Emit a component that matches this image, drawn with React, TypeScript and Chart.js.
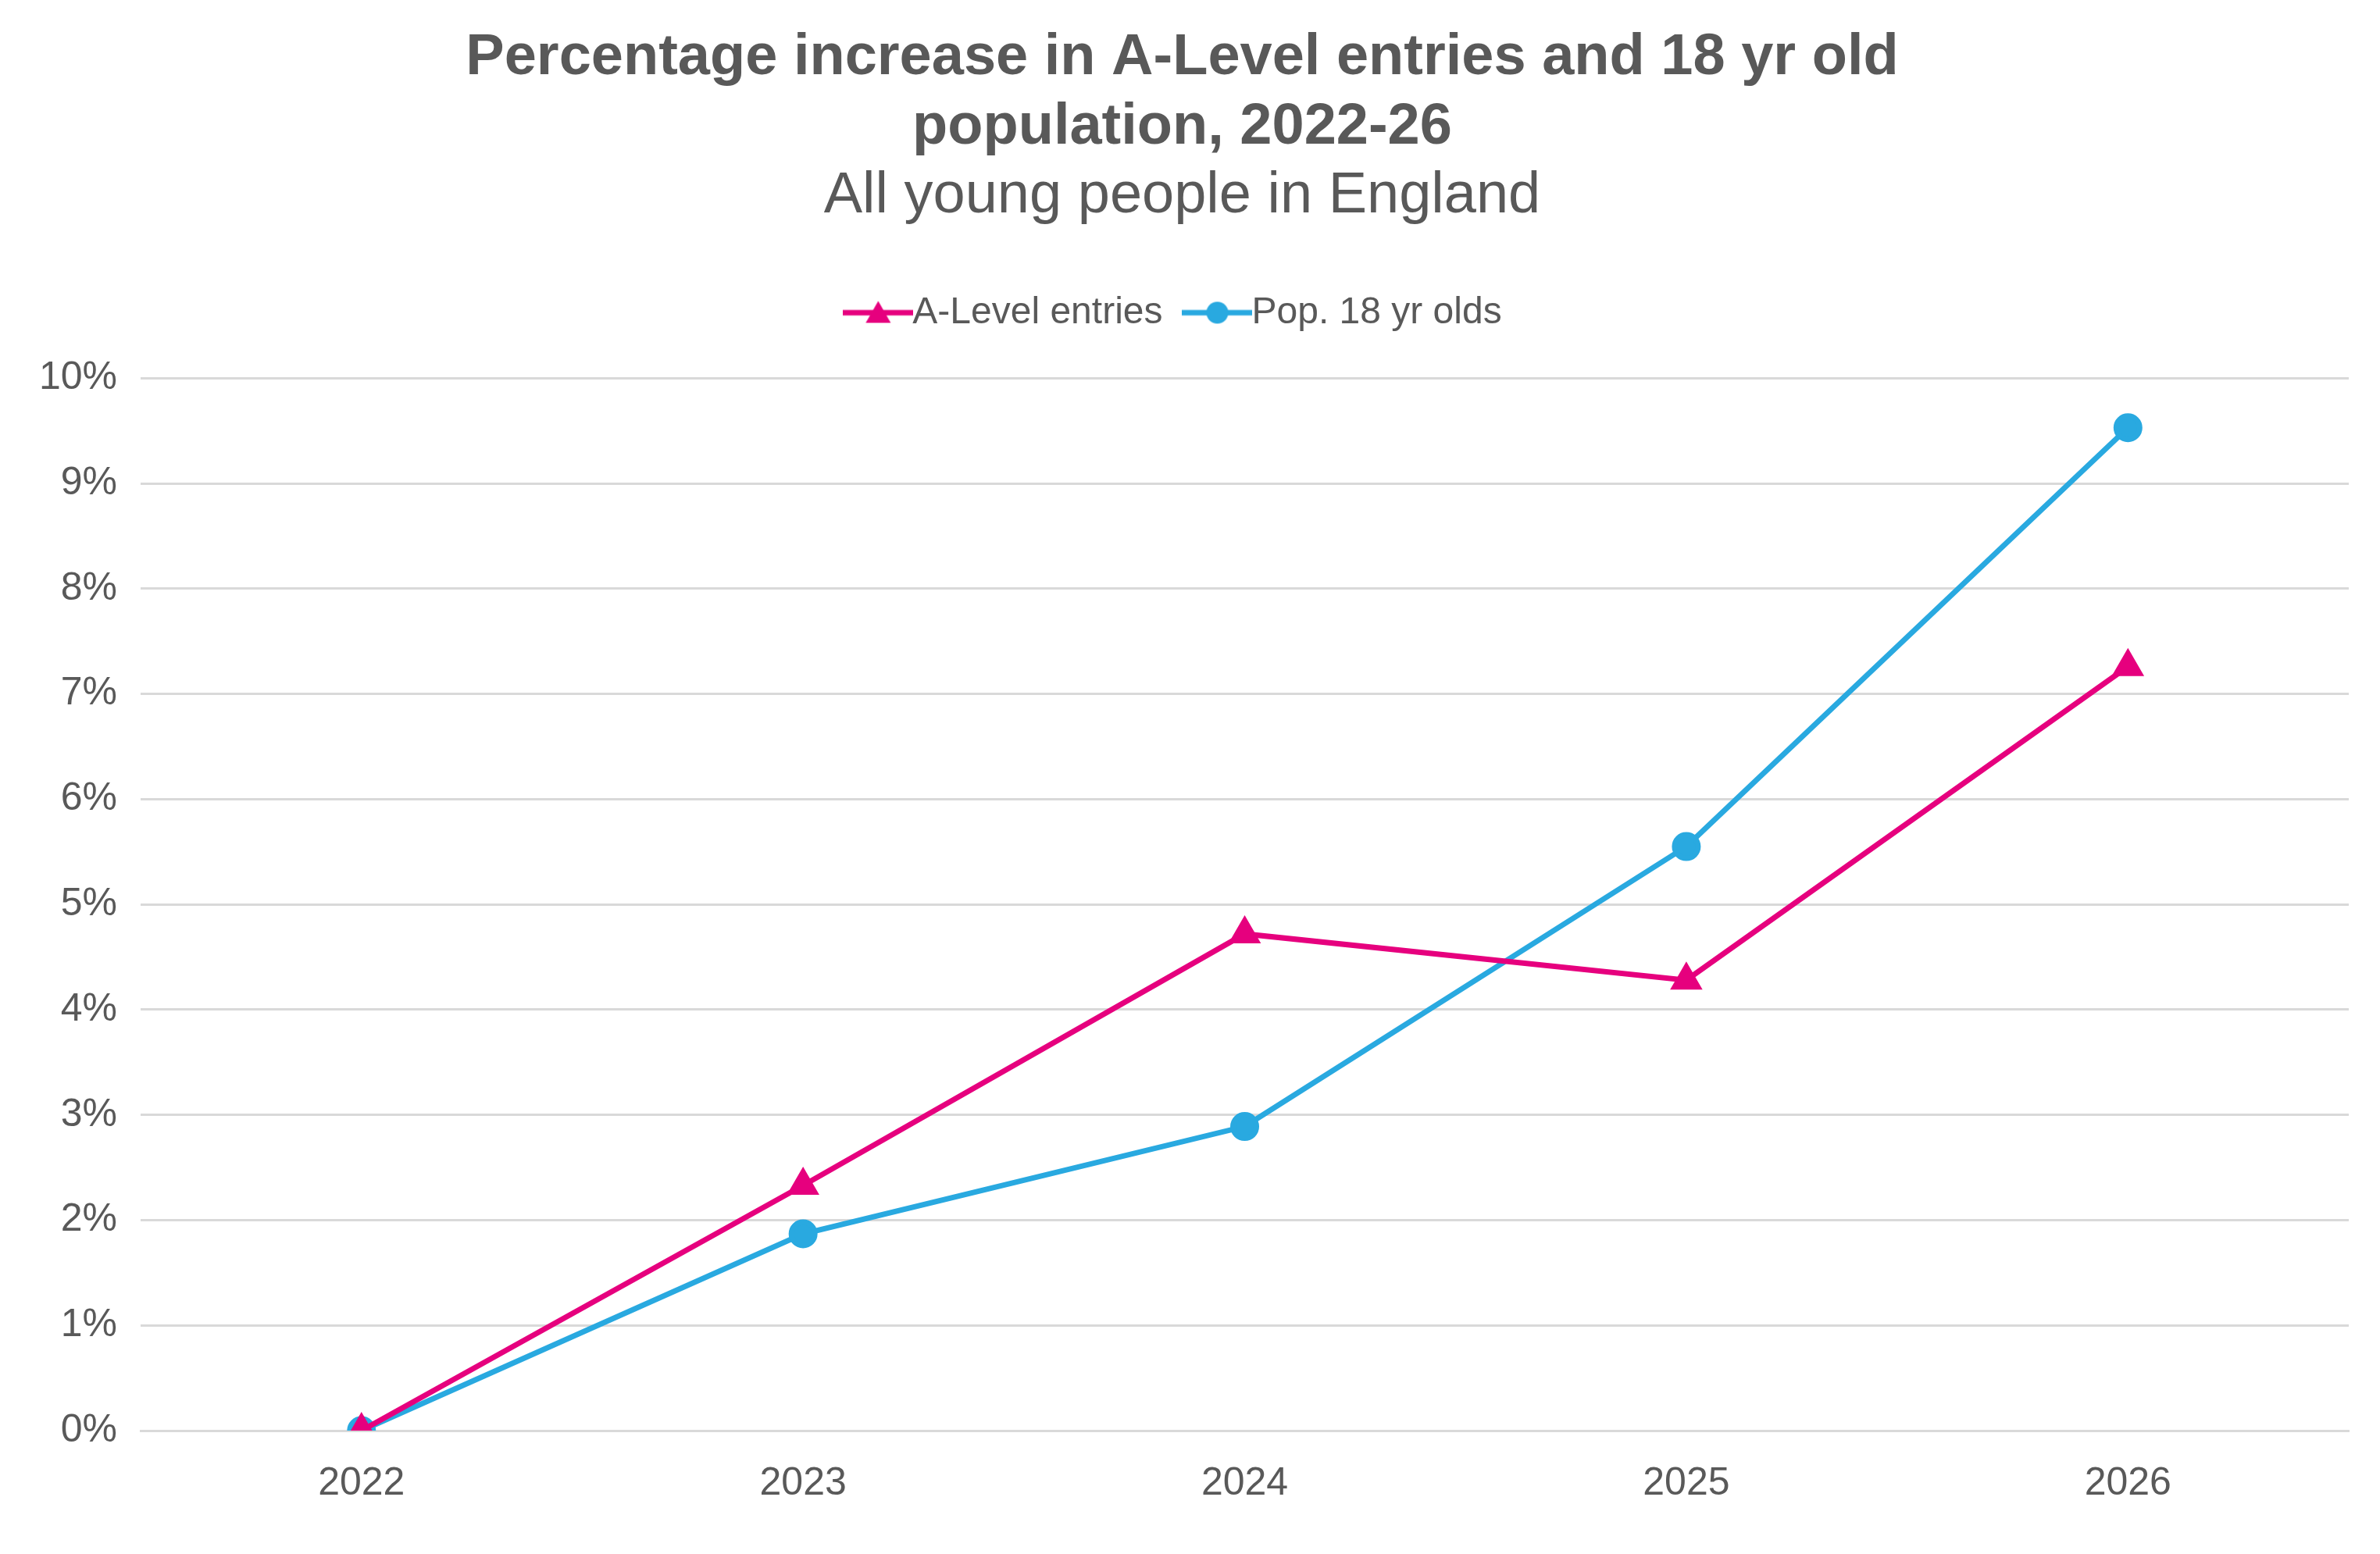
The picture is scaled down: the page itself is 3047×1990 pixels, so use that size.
import React, { useEffect, useRef } from "react";
import { Chart, registerables } from "chart.js";
Chart.register(...registerables);

const years = ["2022", "2023", "2024", "2025", "2026"];
const aLevel = [0, 2.33, 4.72, 4.28, 7.26];
const pop18 = [0, 1.87, 2.89, 5.55, 9.53];
const pink = "#E6007E";
const blue = "#29A9E0";
const txt = "#595959";
const font = "'Liberation Sans', Arial, sans-serif";

function legendIcon(color: string, tri: boolean) {
  const cv = document.createElement("canvas");
  cv.width = 90; cv.height = 34;
  const g = cv.getContext("2d")!;
  g.strokeStyle = color; g.fillStyle = color; g.lineWidth = 7;
  g.beginPath(); g.moveTo(0, 17); g.lineTo(90, 17); g.stroke();
  g.beginPath();
  if (tri) { g.moveTo(45, 2); g.lineTo(61, 30); g.lineTo(29, 30); g.closePath(); }
  else g.arc(45, 17, 14, 0, Math.PI * 2);
  g.fill();
  return cv;
}

export default function App() {
  const ref = useRef<HTMLCanvasElement>(null);
  useEffect(() => {
    const icons = [legendIcon(pink, true), legendIcon(blue, false)];
    const c = new Chart(ref.current!, {
      type: "line",
      data: {
        labels: years,
        datasets: [
          { label: "A-Level entries", data: aLevel, borderColor: pink, backgroundColor: pink, borderWidth: 7, pointStyle: "triangle", pointRadius: 17, pointHoverRadius: 17 },
          { label: "Pop. 18 yr olds", data: pop18, borderColor: blue, backgroundColor: blue, borderWidth: 7, pointStyle: "circle", pointRadius: 15, pointHoverRadius: 15 },
        ],
      },
      options: {
        animation: false,
        responsive: false,
        devicePixelRatio: 1,
        layout: { padding: { left: 20, right: 40, top: 30, bottom: 30 } },
        plugins: {
          title: {
            display: true,
            text: ["Percentage increase in A-Level entries and 18 yr old", "population, 2022-26"],
            color: txt,
            font: { family: font, size: 74, weight: "bold" },
            padding: { bottom: 0 },
            lineHeight: 1.2,
          },
          subtitle: {
            display: true,
            text: "All young people in England",
            color: txt,
            font: { family: font, size: 74 },
            padding: { bottom: 30 },
          },
          legend: {
            labels: {
              usePointStyle: true,
              color: txt,
              font: { family: font, size: 48 },
              padding: 50,
              generateLabels: (ch: any) => ch.data.datasets.map((d: any, i: number) => ({
                text: d.label, pointStyle: icons[i], fillStyle: d.borderColor, strokeStyle: d.borderColor, lineWidth: 0, datasetIndex: i, fontColor: txt, hidden: false,
              })),
            },
          },
          tooltip: { enabled: false },
        },
        scales: {
          x: {
            offset: true,
            grid: { display: false },
            border: { color: "#d9d9d9", width: 3 },
            ticks: { color: txt, font: { family: font, size: 50 }, padding: 30 },
          },
          y: {
            min: 0, max: 10,
            afterFit: (s: any) => {},
            grid: { color: "#d9d9d9", lineWidth: 3, drawTicks: false },
            border: { display: false },
            ticks: { stepSize: 1, color: txt, font: { family: font, size: 50 }, padding: 30, callback: (v: any) => v + "%" },
          },
        },
      },
      plugins: [{
        id: "legendGap",
        beforeInit(chart: any) {
          const orig = chart.legend?.fit;
        },
        afterUpdate() {},
      }],
    });
    // add gap below legend
    const lg: any = (c as any).legend;
    if (lg) {
      const of = lg.fit.bind(lg);
      lg.fit = function () { of(); this.height += 50; };
      c.update();
    }
    return () => c.destroy();
  }, []);
  return (
    <div style={{ position: "fixed", left: 0, top: 0, width: 3047, height: 1990, background: "#fff" }}>
      <canvas ref={ref} width={3047} height={1990} />
    </div>
  );
}
